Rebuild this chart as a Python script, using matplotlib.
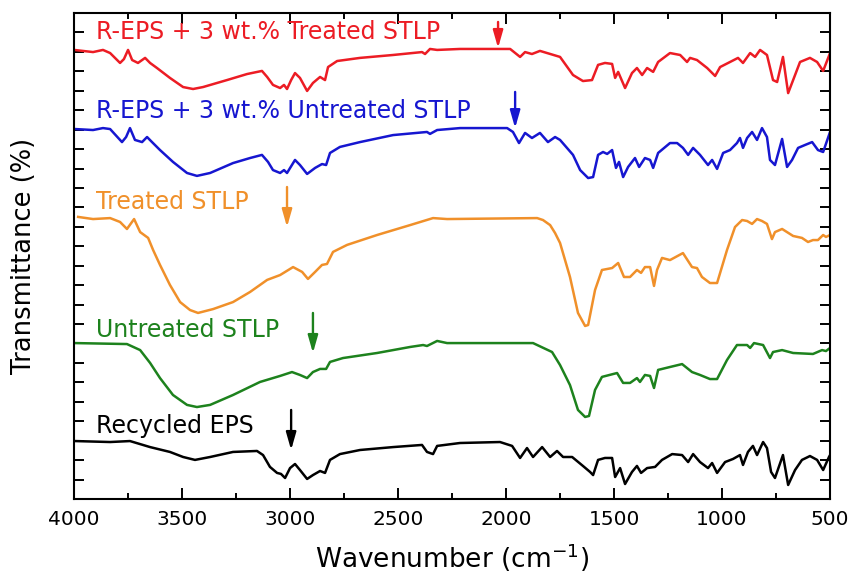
import matplotlib
matplotlib.use("Agg")
import matplotlib.pyplot as plt

plt.rcParams['font.family'] = ['DejaVu Sans']
plt.rcParams['mathtext.fontset'] = 'dejavusans'

# ---- FTIR spectra (stacked, arbitrary offset units) ----
treated_blend_wn = [4000, 3912, 3866, 3833, 3787, 3769, 3750, 3731, 3704, 3685, 3671, 3648, 3616, 3556,
                    3495, 3449, 3403, 3292, 3199, 3130, 3106, 3079, 3046, 3028, 3014, 2995, 2977, 2954,
                    2921, 2894, 2861, 2838, 2824, 2782, 2676, 2523, 2389, 2375, 2352, 2319, 2213, 1981,
                    1935, 1912, 1880, 1843, 1810, 1750, 1690, 1644, 1602, 1574, 1542, 1509, 1495, 1481,
                    1449, 1417, 1394, 1370, 1347, 1319, 1296, 1241, 1194, 1162, 1148, 1116, 1069, 1032,
                    1009, 963, 926, 903, 870, 847, 824, 792, 764, 745, 718, 694, 662, 639, 593, 560, 532, 500]
treated_blend_t = [23.10, 22.99, 23.10, 22.94, 22.43, 22.63, 23.10, 22.58, 22.43, 22.58, 22.69, 22.43, 22.17, 21.66,
                   21.19, 21.09, 21.19, 21.55, 21.86, 22.02, 21.71, 21.30, 21.14, 21.30, 21.09, 21.55, 21.91, 21.66,
                   20.99, 21.40, 21.71, 21.55, 22.22, 22.53, 22.69, 22.84, 22.99, 22.89, 23.15, 23.10, 23.15, 23.15,
                   22.74, 22.99, 22.89, 23.05, 22.94, 22.74, 21.81, 21.50, 21.55, 22.33, 22.43, 22.38, 21.66, 21.97,
                   21.14, 21.91, 22.17, 21.81, 22.17, 21.97, 22.48, 22.94, 22.84, 22.48, 22.69, 22.58, 22.17, 21.76,
                   22.22, 22.48, 22.69, 22.43, 22.94, 22.74, 23.10, 22.84, 21.55, 21.45, 22.74, 20.88, 21.81, 22.48,
                   22.69, 22.48, 22.02, 22.94]

untreated_blend_wn = [3995, 3912, 3866, 3833, 3778, 3759, 3741, 3718, 3685, 3662, 3639, 3602, 3542, 3477,
                      3431, 3370, 3264, 3185, 3130, 3102, 3079, 3046, 3028, 3014, 2977, 2954, 2921, 2884,
                      2852, 2833, 2815, 2769, 2676, 2523, 2366, 2352, 2319, 2213, 1995, 1968, 1940, 1912,
                      1880, 1843, 1806, 1773, 1750, 1718, 1690, 1657, 1620, 1597, 1574, 1551, 1532, 1509,
                      1491, 1477, 1458, 1435, 1403, 1384, 1357, 1333, 1319, 1296, 1241, 1208, 1181, 1157,
                      1134, 1102, 1065, 1046, 1023, 995, 963, 931, 917, 903, 884, 861, 838, 815, 792, 778,
                      755, 722, 699, 676, 648, 616, 583, 556, 532, 500]
untreated_blend_t = [19.03, 18.98, 19.08, 19.03, 18.36, 18.62, 19.08, 18.47, 18.36, 18.62, 18.36, 17.95, 17.34, 16.77,
                     16.62, 16.77, 17.28, 17.54, 17.70, 17.34, 16.92, 16.77, 16.92, 16.77, 17.44, 17.18, 16.72, 17.03,
                     17.23, 17.18, 17.80, 18.11, 18.36, 18.72, 18.88, 18.78, 18.98, 19.08, 19.08, 18.88, 18.31, 18.83,
                     18.57, 18.83, 18.36, 18.62, 18.47, 18.06, 17.70, 16.92, 16.51, 16.56, 17.70, 17.85, 17.75, 17.95,
                     17.03, 17.34, 16.56, 17.08, 17.54, 17.08, 17.54, 17.44, 17.03, 17.80, 18.31, 18.31, 18.06, 17.70,
                     18.06, 17.70, 17.18, 17.44, 16.98, 17.80, 17.95, 18.31, 18.57, 18.06, 18.57, 18.88, 18.47, 19.08,
                     18.62, 17.44, 17.18, 18.52, 17.08, 17.44, 18.06, 18.21, 18.36, 17.95, 17.85, 18.88]

treated_stlp_wn = [3981, 3912, 3833, 3787, 3755, 3722, 3694, 3657, 3634, 3602, 3556, 3509, 3463, 3426,
                   3356, 3264, 3185, 3106, 3046, 2986, 2944, 2917, 2884, 2852, 2829, 2801, 2736, 2597,
                   2444, 2338, 2273, 1856, 1829, 1796, 1773, 1750, 1704, 1667, 1634, 1620, 1588, 1556,
                   1509, 1481, 1454, 1426, 1394, 1375, 1357, 1333, 1315, 1301, 1278, 1241, 1181, 1139,
                   1116, 1093, 1056, 1023, 977, 940, 907, 884, 861, 838, 815, 792, 769, 755, 722, 671,
                   630, 602, 579, 556, 532, 519, 500]
treated_stlp_t = [14.51, 14.40, 14.45, 14.25, 13.89, 14.40, 13.73, 13.43, 12.81, 12.04, 11.01, 10.13, 9.72, 9.57,
                  9.77, 10.13, 10.65, 11.27, 11.52, 11.93, 11.68, 11.32, 11.68, 12.04, 12.09, 12.71, 13.07, 13.58,
                  14.09, 14.45, 14.40, 14.45, 14.35, 14.09, 13.68, 13.17, 11.42, 9.57, 8.90, 8.95, 10.75, 11.78,
                  11.88, 12.14, 11.42, 11.42, 11.78, 11.63, 11.93, 11.93, 10.96, 11.78, 12.40, 12.29, 12.65, 11.93,
                  11.88, 11.42, 11.11, 11.11, 12.81, 13.99, 14.35, 14.30, 14.15, 14.40, 14.30, 14.15, 13.37, 13.73,
                  13.89, 13.53, 13.43, 13.22, 13.32, 13.32, 13.58, 13.48, 13.58]

untreated_stlp_wn = [3995, 3755, 3694, 3648, 3602, 3542, 3477, 3431, 3370, 3264, 3139, 3046, 2991, 2954,
                     2921, 2894, 2861, 2833, 2815, 2755, 2597, 2444, 2384, 2366, 2319, 2273, 1875, 1787,
                     1750, 1704, 1667, 1634, 1616, 1588, 1556, 1486, 1458, 1426, 1394, 1380, 1357, 1333,
                     1315, 1296, 1241, 1185, 1139, 1102, 1056, 1023, 977, 931, 884, 870, 852, 810, 778,
                     764, 722, 671, 579, 537, 519, 500]
untreated_stlp_t = [8.02, 7.97, 7.66, 7.00, 6.22, 5.35, 4.84, 4.73, 4.84, 5.35, 6.02, 6.33, 6.53, 6.38,
                    6.22, 6.53, 6.69, 6.69, 7.05, 7.25, 7.51, 7.82, 7.92, 7.87, 8.13, 8.02, 8.02, 7.56,
                    6.89, 5.86, 4.58, 4.22, 4.27, 5.61, 6.28, 6.48, 5.97, 5.97, 6.22, 6.02, 6.38, 6.33,
                    5.71, 6.64, 6.79, 6.94, 6.53, 6.38, 6.17, 6.17, 7.15, 7.92, 7.92, 7.77, 8.02, 7.92, 7.25,
                    7.56, 7.66, 7.51, 7.46, 7.66, 7.61, 7.77]

recycled_eps_wn = [3995, 3833, 3741, 3648, 3556, 3495, 3440, 3370, 3264, 3153, 3125, 3093, 3060, 3042,
                   3023, 3000, 2977, 2954, 2921, 2894, 2861, 2838, 2815, 2769, 2676, 2523, 2389, 2366,
                   2338, 2319, 2213, 2028, 1972, 1935, 1903, 1875, 1833, 1796, 1764, 1736, 1694, 1644,
                   1611, 1597, 1574, 1542, 1509, 1495, 1472, 1449, 1417, 1394, 1375, 1347, 1310, 1278,
                   1231, 1185, 1157, 1134, 1102, 1065, 1046, 1023, 986, 949, 917, 903, 880, 857, 838,
                   810, 792, 773, 755, 718, 694, 662, 630, 593, 560, 532, 505, 500]
recycled_eps_t = [2.98, 2.93, 2.98, 2.67, 2.42, 2.16, 2.01, 2.16, 2.42, 2.47, 2.26, 1.65, 1.34, 1.29,
                  1.08, 1.59, 1.80, 1.49, 1.03, 1.23, 1.44, 1.34, 2.01, 2.31, 2.52, 2.67, 2.78, 2.42,
                  2.31, 2.73, 2.88, 2.93, 2.73, 2.11, 2.62, 2.16, 2.67, 2.16, 2.47, 2.16, 2.16, 1.70,
                  1.39, 1.23, 2.01, 2.11, 2.11, 1.13, 1.59, 0.77, 1.39, 1.70, 1.34, 1.59, 1.65, 2.01,
                  2.31, 2.26, 1.90, 2.31, 1.90, 1.59, 1.85, 1.34, 1.90, 2.06, 2.26, 1.75, 2.42, 2.73, 2.26,
                  2.93, 2.62, 1.39, 1.08, 2.26, 0.72, 1.49, 2.01, 2.21, 2.01, 1.49, 2.16, 2.26]

series_labels = ["R-EPS + 3 wt.% Treated STLP", "R-EPS + 3 wt.% Untreated STLP",
                 "Treated STLP", "Untreated STLP", "Recycled EPS"]
series_colors = ["#ec1c24", "#1616d0", "#f0902a", "#1d821d", "#000000"]
# label baseline height and marked band (arrow wavenumber, arrow top, arrow tip)
label_y = [23.65, 19.58, 14.90, 8.35, 3.38]
arrow_wn = [2037, 1958, 3014, 2894, 2995]
arrow_top = [24.54, 20.94, 16.05, 9.57, 4.58]
arrow_tip = [23.20, 19.08, 13.99, 7.51, 2.52]

spectra = [(treated_blend_wn, treated_blend_t), (untreated_blend_wn, untreated_blend_t),
           (treated_stlp_wn, treated_stlp_t), (untreated_stlp_wn, untreated_stlp_t),
           (recycled_eps_wn, recycled_eps_t)]

fig = plt.figure(figsize=(8.53, 5.75), dpi=100)
ax = fig.add_axes([0.0868, 0.1322, 0.8863, 0.8452])

for (wn, t), c in zip(spectra, series_colors):
    ax.plot(wn, t, color=c, lw=1.8, solid_joinstyle='round')

for lab, c, ly, aw, at, ab in zip(series_labels, series_colors, label_y, arrow_wn, arrow_top, arrow_tip):
    ax.text(3898, ly, lab, color=c, fontsize=17, va='baseline', ha='left')
    ax.annotate('', xy=(aw, ab), xytext=(aw, at),
                arrowprops=dict(arrowstyle='-|>,head_length=0.7,head_width=0.2',
                                mutation_scale=15, color=c, lw=1.7,
                                shrinkA=0, shrinkB=0))

ax.set_xlim(4000, 500)
ax.set_ylim(0, 25)
ax.set_xticks([4000, 3500, 3000, 2500, 2000, 1500, 1000, 500])
ax.set_xticks([3750, 3250, 2750, 2250, 1750, 1250, 750], minor=True)
ax.set_yticks(range(0, 26))
ax.set_yticklabels([])

ax.tick_params(axis='x', which='major', direction='in', length=8, width=1.4,
               top=True, bottom=True, labelsize=14.5, pad=8)
ax.tick_params(axis='x', which='minor', direction='in', length=4.5, width=1.4,
               top=True, bottom=True)
ax.tick_params(axis='y', which='major', direction='in', length=7, width=1.4,
               left=True, right=True)
for s in ax.spines.values():
    s.set_linewidth(1.5)

ax.set_xlabel(r'Wavenumber (cm$^{-1}$)', fontsize=19, labelpad=9)
ax.set_ylabel('Transmittance (%)', fontsize=18.5, labelpad=23)

fig.savefig('out.png', dpi=100)
